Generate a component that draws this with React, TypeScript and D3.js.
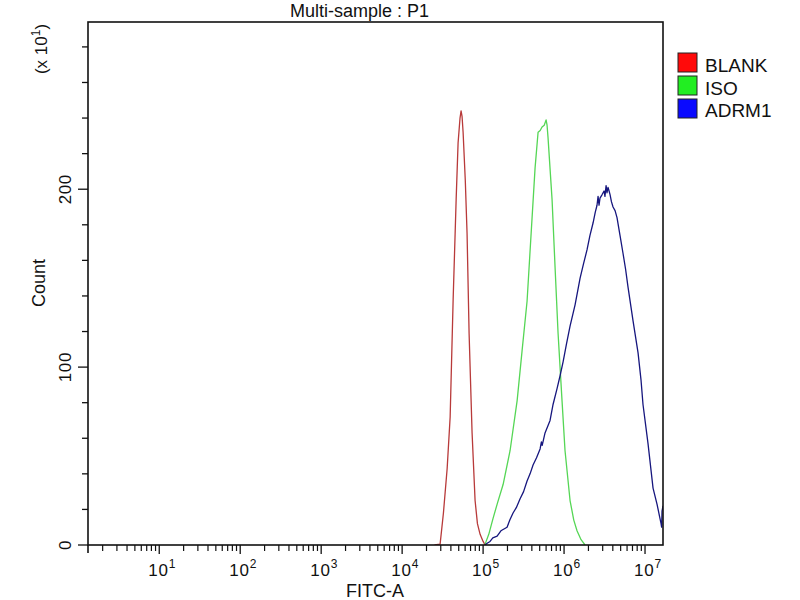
import * as d3 from "d3";

// log10(FITC-A) / count (x10^1)
const BLANK: [number, number][] = [
  [4.40, 0], [4.469, 0.5], [4.51, 18], [4.556, 43], [4.593, 72], [4.63, 138], [4.667, 194],
  [4.691, 226], [4.715, 240], [4.728, 244], [4.74, 241], [4.753, 232], [4.78, 205],
  [4.802, 175], [4.827, 119], [4.864, 63], [4.901, 25], [4.93, 12], [4.963, 6],
  [5.0, 2], [5.025, 0],
];
const ISO: [number, number][] = [
  [5.025, 0.5], [5.07, 6], [5.123, 15], [5.18, 24], [5.247, 34], [5.333, 53], [5.42, 81],
  [5.481, 109], [5.543, 137], [5.593, 175], [5.642, 212], [5.679, 232], [5.705, 233],
  [5.728, 235], [5.755, 236], [5.778, 239], [5.79, 236], [5.802, 229], [5.852, 194],
  [5.889, 156], [5.926, 119], [5.975, 81], [6.012, 53], [6.074, 25], [6.12, 14],
  [6.16, 8], [6.21, 3], [6.259, 0],
];
const ADRM1: [number, number][] = [
  [5.025, 0], [5.05, 1], [5.086, 2], [5.12, 4], [5.173, 5], [5.22, 8], [5.296, 10],
  [5.33, 14], [5.37, 18], [5.41, 21], [5.457, 26], [5.5, 30], [5.543, 36], [5.58, 40],
  [5.617, 45], [5.66, 49], [5.704, 54], [5.72, 58], [5.73, 56], [5.765, 63], [5.827, 70],
  [5.864, 79], [5.914, 88], [5.95, 95], [5.988, 103], [6.03, 113], [6.074, 123],
  [6.136, 135], [6.198, 150], [6.24, 158], [6.284, 166], [6.32, 174], [6.358, 181],
  [6.385, 187], [6.407, 191], [6.42, 196], [6.432, 191], [6.444, 195], [6.47, 197],
  [6.494, 199], [6.505, 196], [6.519, 202], [6.53, 198], [6.543, 201], [6.556, 199],
  [6.568, 197], [6.585, 193], [6.605, 190], [6.63, 188], [6.654, 184], [6.691, 174],
  [6.728, 164], [6.76, 155], [6.79, 145], [6.852, 126], [6.914, 108], [6.95, 93],
  [6.975, 79], [7.037, 57], [7.099, 32], [7.148, 23], [7.18, 16], [7.198, 12],
  [7.205, 10], [7.21, 19], [7.222, 22],
];

const SERIES_NAMES = ["BLANK", "ISO", "ADRM1"];
const SERIES_DATA = [BLANK, ISO, ADRM1];
const LINE_COLORS = ["#b83a3a", "#55d655", "#16167e"];
const SWATCH_COLORS = ["#ff0a0a", "#22ee22", "#0a0aff"];

const TITLE = "Multi-sample : P1";
const X_LABEL = "FITC-A";
const Y_LABEL = "Count";
const X_DECADES = [1, 2, 3, 4, 5, 6, 7];
const Y_MAJOR = [0, 100, 200];
const Y_MINOR = [20, 40, 60, 80, 120, 140, 160, 180, 220, 240, 260, 280];
const X_MIN_EXP = 0.12;
const X_MAX_EXP = 7.222;
const Y_MAX = 294;

const FONT = "'Liberation Sans', Arial, sans-serif";

export default function App() {
  const left = 88, right = 663, top = 22, bottom = 545;

  const x = d3.scaleLog()
    .domain([Math.pow(10, X_MIN_EXP), Math.pow(10, X_MAX_EXP)])
    .range([left, right]);
  const y = d3.scaleLinear().domain([0, Y_MAX]).range([bottom, top]);

  const line = d3.line<[number, number]>()
    .x((d) => x(Math.pow(10, d[0])))
    .y((d) => y(d[1]));

  // minor log ticks 2..9 of each decade inside the domain
  const minorX: number[] = [];
  for (let k = 0; k <= 7; k++) {
    for (let m = 2; m <= 9; m++) {
      const v = m * Math.pow(10, k);
      if (v >= x.domain()[0] && v <= x.domain()[1]) minorX.push(v);
    }
  }

  return (
    <svg
      width={800}
      height={600}
      style={{ position: "absolute", left: 0, top: 0, background: "#fff" }}
      fontFamily={FONT}
    >
      <rect x={0} y={0} width={800} height={600} fill="#fff" />

      <text x={290} y={17} fontSize={18} fill="#111">{TITLE}</text>

      <defs>
        <clipPath id="plotclip">
          <rect x={left} y={top} width={right - left} height={bottom - top} />
        </clipPath>
      </defs>

      {/* histograms */}
      <g clipPath="url(#plotclip)">
        {SERIES_DATA.map((d, i) => (
          <path key={SERIES_NAMES[i]} d={line(d) ?? ""} fill="none"
            stroke={LINE_COLORS[i]} strokeWidth={1.3} strokeLinejoin="round" />
        ))}
      </g>

      {/* frame */}
      <rect x={left} y={top} width={right - left} height={bottom - top}
        fill="none" stroke="#111" strokeWidth={1.6} />
      <line x1={left} x2={left} y1={bottom} y2={bottom + 8} stroke="#111" strokeWidth={1.6} />

      {/* y axis */}
      {Y_MINOR.map((v) => (
        <line key={"ym" + v} x1={left - 6} x2={left} y1={y(v)} y2={y(v)} stroke="#111" strokeWidth={1.3} />
      ))}
      {Y_MAJOR.map((v) => (
        <g key={"yM" + v}>
          <line x1={left - 10} x2={left} y1={y(v)} y2={y(v)} stroke="#111" strokeWidth={1.3} />
          <text transform={`translate(71,${y(v)}) rotate(-90)`} textAnchor="middle"
            fontSize={17} letterSpacing={0.6} fill="#111">{v}</text>
        </g>
      ))}
      <text transform={`translate(45,283) rotate(-90)`} textAnchor="middle" fontSize={18} fill="#111">
        {Y_LABEL}
      </text>
      <text transform={`translate(47,49) rotate(-90)`} textAnchor="middle" fontSize={17} fill="#111">
        (x 10<tspan dy={-7} fontSize={12}>1</tspan><tspan dy={7}>)</tspan>
      </text>

      {/* x axis */}
      {minorX.map((v) => (
        <line key={"xm" + v} x1={x(v)} x2={x(v)} y1={bottom} y2={bottom + 6} stroke="#111" strokeWidth={1.2} />
      ))}
      {X_DECADES.map((e) => {
        const px = x(Math.pow(10, e));
        return (
          <g key={"xM" + e}>
            <line x1={px} x2={px} y1={bottom} y2={bottom + 9} stroke="#111" strokeWidth={1.3} />
            <text x={px + 3} y={576} textAnchor="middle" fontSize={17} letterSpacing={0.8} fill="#111">
              10<tspan dy={-8} fontSize={12}>{e}</tspan>
            </text>
          </g>
        );
      })}
      <text x={375} y={597} textAnchor="middle" fontSize={18} fill="#111">{X_LABEL}</text>

      {/* legend */}
      {SERIES_NAMES.map((name, i) => (
        <g key={"lg" + name}>
          <rect x={678} y={53 + i * 23} width={19} height={19}
            fill={SWATCH_COLORS[i]} stroke="#222" strokeWidth={1} />
          <text x={705} y={72 + i * 22.5} fontSize={19} fill="#111">{name}</text>
        </g>
      ))}
    </svg>
  );
}
